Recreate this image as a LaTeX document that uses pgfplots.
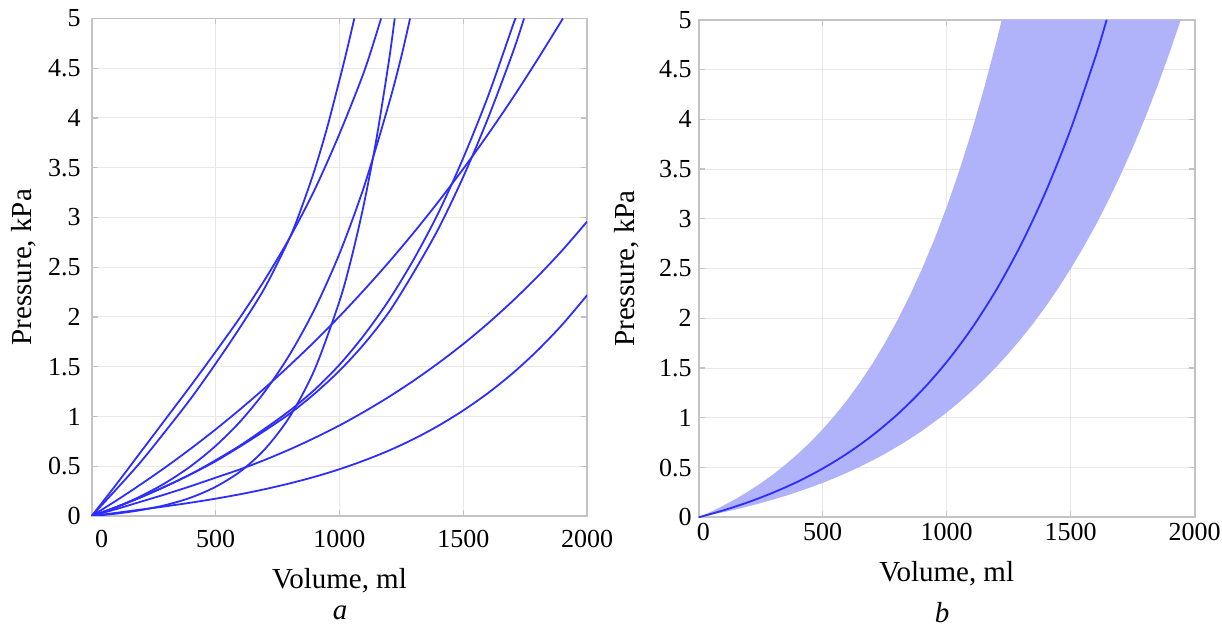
\documentclass[border=0pt]{standalone}
\usepackage{fontspec}
\setmainfont{Liberation Serif}
\usepackage{pgfplots}
\pgfplotsset{compat=1.18}
\definecolor{curve}{RGB}{45,45,255}
\definecolor{bandfill}{RGB}{176,178,250}
\definecolor{boxgray}{RGB}{195,195,195}
\definecolor{gridgray}{RGB}{232,232,232}
\pgfplotsset{
  pvstyle/.style={
    scale only axis,
    xmin=0, xmax=2000, ymin=0, ymax=5,
    xtick={0,500,1000,1500,2000},
    ytick={0,0.5,1,1.5,2,2.5,3,3.5,4,4.5,5},
    yticklabels={0,0.5,1,1.5,2,2.5,3,3.5,4,4.5,5},
    grid=major,
    major grid style={gridgray, line width=0.5pt},
    axis line style={boxgray, line width=0.8pt},
    tick align=inside,
    major tick length=3pt,
    tick style={boxgray, line width=0.6pt},
    tick label style={font=\fontsize{13}{15}\selectfont, black},
    label style={font=\fontsize{14.5}{17}\selectfont, black},
    scaled ticks=false,
    /pgf/number format/1000 sep={},
    /pgf/number format/assume math mode=true,
    xlabel={Volume, ml},
    ylabel={Pressure, kPa},
  },
  crv/.style={curve, line width=0.9pt, smooth},
}
\begin{document}
\begin{tikzpicture}
\path[use as bounding box] (0,0) rectangle (611pt,315pt);
% ---------------- panel a ----------------
\begin{axis}[pvstyle,
  at={(45.85pt,57pt)}, anchor=south west,
  width=247.75pt, height=248.75pt,
  xticklabels={\hspace{10pt}0,500,1000,1500,2000},
  xticklabel style={yshift=-3.8pt},
  yticklabel style={xshift=-2pt},
  xlabel style={at={(axis description cs:0.5,-0.1307)}, anchor=center},
  ylabel style={at={(axis description cs:-0.137,0.5)}, anchor=center},
]
\addplot[crv] coordinates {(0,0)(100,0.27)(200,0.55)(300,0.86)(400,1.18)(500,1.53)(600,1.9)(700,2.3)(800,2.8)(850,3.12)(900,3.48)(950,3.9)(1000,4.38)(1030,4.68)(1060,5.0)};
\addplot[crv] coordinates {(0,0)(100,0.32)(200,0.65)(300,0.98)(400,1.31)(500,1.65)(600,2.0)(700,2.38)(800,2.8)(900,3.28)(1000,3.84)(1100,4.47)(1168,5.0)};
\addplot[crv] coordinates {(0,0)(100,0.024)(200,0.06)(300,0.111)(400,0.185)(500,0.293)(600,0.448)(700,0.674)(800,1.001)(900,1.473)(1000,2.158)(1050,2.608)(1100,3.15)(1150,3.8)(1200,4.58)(1223,5.0)};
\addplot[crv] coordinates {(0,0)(100,0.09)(200,0.201)(300,0.336)(400,0.501)(500,0.704)(600,0.951)(700,1.255)(800,1.626)(900,2.08)(1000,2.636)(1100,3.316)(1200,4.147)(1250,4.62)(1285,5.0)};
\addplot[crv] coordinates {(0,0)(100,0.09)(200,0.19)(300,0.3)(400,0.42)(500,0.56)(600,0.71)(700,0.88)(800,1.06)(900,1.27)(1000,1.52)(1100,1.82)(1200,2.17)(1300,2.58)(1400,3.05)(1500,3.6)(1600,4.22)(1700,4.93)(1711,5.0)};
\addplot[crv] coordinates {(0,0)(100,0.09)(200,0.19)(300,0.3)(400,0.42)(500,0.55)(600,0.7)(700,0.86)(800,1.03)(900,1.23)(1000,1.46)(1100,1.73)(1200,2.05)(1300,2.45)(1400,2.89)(1500,3.41)(1600,4.0)(1700,4.66)(1745,5.0)};
\addplot[crv] coordinates {(0,0)(100,0.156)(200,0.321)(300,0.494)(400,0.677)(500,0.87)(600,1.074)(700,1.289)(800,1.516)(900,1.754)(1000,2.006)(1100,2.273)(1200,2.553)(1300,2.849)(1400,3.161)(1500,3.49)(1600,3.837)(1700,4.203)(1800,4.59)(1902,5.0)};
\addplot[crv] coordinates {(0,0)(100,0.07)(200,0.145)(300,0.22)(400,0.3)(500,0.385)(600,0.47)(700,0.565)(800,0.67)(900,0.785)(1000,0.91)(1100,1.048)(1200,1.198)(1300,1.361)(1400,1.538)(1500,1.729)(1600,1.937)(1700,2.163)(1800,2.407)(1900,2.672)(2000,2.96)};
\addplot[crv] coordinates {(0,0)(100,0.032)(200,0.065)(300,0.098)(400,0.134)(500,0.174)(600,0.219)(700,0.27)(800,0.328)(900,0.394)(1000,0.47)(1100,0.558)(1200,0.658)(1300,0.774)(1400,0.908)(1500,1.061)(1600,1.236)(1700,1.436)(1800,1.665)(1900,1.925)(2000,2.22)};
\end{axis}
% ---------------- panel b ----------------
\begin{axis}[pvstyle,
  at={(349.35pt,56.35pt)}, anchor=south west,
  width=248pt, height=248.75pt,
  xticklabels={\hspace{4.7pt}0,500,1000,1500,2000},
  xticklabel style={yshift=0.5pt},
  xlabel style={at={(axis description cs:0.5,-0.1126)}, anchor=center},
  ylabel style={at={(axis description cs:-0.145,0.5)}, anchor=center},
]
\addplot[fill=bandfill, draw=none] coordinates {(0,0)(50,0.0563)(100,0.118)(150,0.186)(200,0.26)(250,0.342)(300,0.431)(350,0.53)(400,0.637)(450,0.755)(500,0.885)(550,1.027)(600,1.183)(650,1.355)(700,1.542)(750,1.748)(800,1.974)(850,2.222)(900,2.494)(950,2.792)(1000,3.119)(1050,3.478)(1100,3.872)(1150,4.304)(1200,4.778)(1222,5.0)
(1944,5.0)(1900,4.679)(1850,4.334)(1800,4.012)(1750,3.713)(1700,3.434)(1650,3.174)(1600,2.932)(1550,2.708)(1500,2.498)(1450,2.303)(1400,2.121)(1350,1.952)(1300,1.795)(1250,1.648)(1200,1.512)(1150,1.384)(1100,1.266)(1050,1.156)(1000,1.053)(950,0.958)(900,0.869)(850,0.786)(800,0.709)(750,0.637)(700,0.57)(650,0.508)(600,0.45)(550,0.396)(500,0.346)(450,0.2995)(400,0.256)(350,0.2154)(300,0.178)(250,0.1425)(200,0.11)(150,0.0794)(100,0.051)(50,0.0246)(0,0)};
\addplot[crv] coordinates {(0,0)(100,0.07)(200,0.152)(300,0.248)(400,0.359)(500,0.49)(600,0.643)(700,0.822)(800,1.031)(900,1.275)(1000,1.561)(1100,1.895)(1200,2.286)(1300,2.742)(1400,3.276)(1500,3.9)(1600,4.629)(1645,5.0)};
\end{axis}
\node[font=\fontsize{14.5}{17}\selectfont\itshape] at (170pt,8.5pt) {a};
\node[font=\fontsize{14.5}{17}\selectfont\itshape] at (471pt,8.5pt) {b};
\end{tikzpicture}
\end{document}
